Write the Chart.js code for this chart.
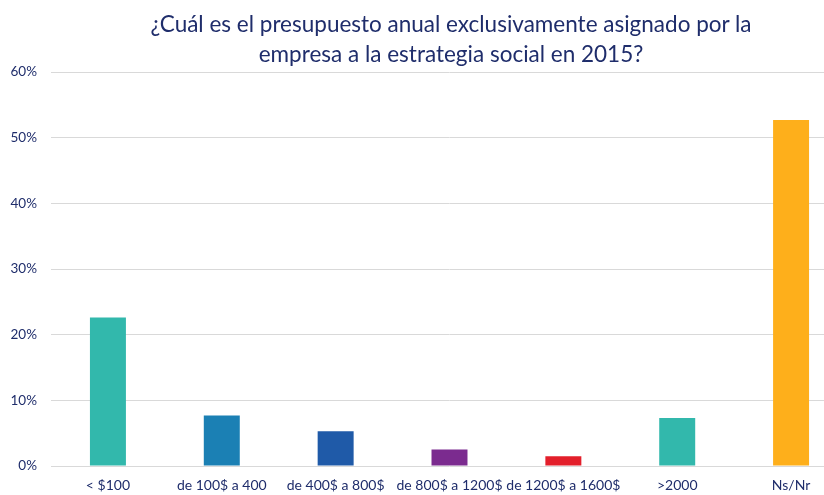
<!DOCTYPE html>
<html>
<head>
<meta charset="utf-8">
<script src="https://cdn.jsdelivr.net/npm/chart.js@4/dist/chart.umd.min.js"></script>
<style>
  html, body { margin: 0; padding: 0; background: #fff; overflow: hidden; }
  #wrap { position: relative; width: 848px; height: 495px; }
  #title {
    position: absolute; left: 0; top: 9px; width: 902px;
    text-align: center; font-family: Lato, "Open Sans", sans-serif;
    font-size: 22.5px; line-height: 30px; color: #1f2d6b;
  }
</style>
</head>
<body>
<div id="wrap">
  <canvas id="chart" width="848" height="495"></canvas>
  <div id="title">¿Cuál es el presupuesto anual exclusivamente asignado por la<br>empresa a la estrategia social en 2015?</div>
</div>
<script>
// Datos del gráfico
const categories = ["< $100", "de 100$ a 400", "de 400$ a 800$", "de 800$ a 1200$", "de 1200$ a 1600$", ">2000", "Ns/Nr"];
const values = [22.6, 7.7, 5.3, 2.5, 1.5, 7.3, 52.7];
const barColors = ["#32b8ac", "#1b80b4", "#1f5aa8", "#7b2b8f", "#e31f2b", "#32b8ac", "#feaf1b"];
const yTicks = [0, 10, 20, 30, 40, 50, 60];

const navy = "#1f2d6b";

new Chart(document.getElementById("chart"), {
  type: "bar",
  data: {
    labels: categories,
    datasets: [{
      data: values,
      backgroundColor: barColors,
      categoryPercentage: 1,
      barPercentage: 0.316
    }]
  },
  options: {
    responsive: false,
    animation: false,
    layout: { padding: { top: 72, left: 10, right: 0, bottom: 0 } },
    plugins: {
      legend: { display: false },
      title: { display: false },
      tooltip: { enabled: false }
    },
    scales: {
      x: {
        afterFit: axis => { axis.height = 29; },
        grid: { display: false, drawTicks: false },
        border: { display: false },
        ticks: {
          color: navy,
          padding: 11,
          maxRotation: 0,
          autoSkip: false,
          font: { family: "Lato, 'Open Sans', sans-serif", size: 14 }
        }
      },
      y: {
        min: 0,
        max: 60,
        afterBuildTicks: axis => { axis.ticks = yTicks.map(v => ({ value: v })); },
        afterFit: axis => { axis.width = 41; },
        grid: { color: "#d9d9d9", drawTicks: false, lineWidth: 1 },
        border: { display: false },
        ticks: {
          color: navy,
          padding: 14,
          callback: v => v + "%",
          font: { family: "Lato, 'Open Sans', sans-serif", size: 13.5 }
        }
      }
    }
  }
});
</script>
</body>
</html>
